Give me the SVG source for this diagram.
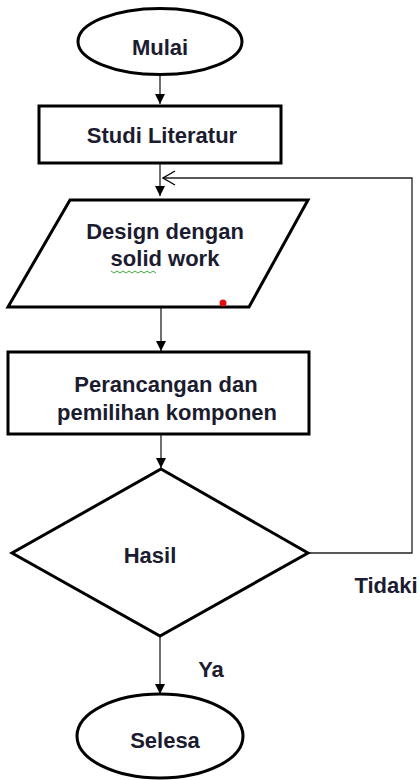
<svg xmlns="http://www.w3.org/2000/svg" width="420" height="780" viewBox="0 0 420 780">
<defs>
<marker id="ah" markerWidth="10" markerHeight="10" refX="10" refY="5" orient="auto" markerUnits="userSpaceOnUse">
<path d="M0,0 L10,5 L0,10 Z" fill="#000"/>
</marker>
<marker id="open" markerWidth="14" markerHeight="16" refX="13" refY="8" orient="auto" markerUnits="userSpaceOnUse">
<path d="M1,1 L13,8 L1,15" fill="none" stroke="#000" stroke-width="1.3"/>
</marker>
<style>
.shape{fill:#fff;stroke:#000;stroke-width:3}
.conn{fill:none;stroke:#222;stroke-width:1.3}
.t{font-family:"Liberation Sans",Arial,sans-serif;font-weight:bold;font-size:22px;fill:#1c1c30;text-anchor:middle}
</style>
</defs>
<rect width="420" height="780" fill="#fff"/>
<g id="connectors">
<line class="conn" x1="160" y1="75" x2="160" y2="104" marker-end="url(#ah)"/>
<line class="conn" x1="160" y1="163" x2="160" y2="196" marker-end="url(#ah)"/>
<line class="conn" x1="161" y1="307" x2="161" y2="351" marker-end="url(#ah)"/>
<line class="conn" x1="161" y1="434" x2="161" y2="468" marker-end="url(#ah)"/>
<line class="conn" x1="160" y1="636" x2="160" y2="694" marker-end="url(#ah)"/>
<polyline class="conn" points="308,553 412,553 412,178 163,178" marker-end="url(#open)"/>
</g>
<g id="mulai">
<ellipse class="shape" cx="160" cy="41.5" rx="82" ry="33"/>
<text class="t" x="160" y="55">Mulai</text>
</g>
<g id="studi">
<rect class="shape" x="39" y="106" width="242" height="57"/>
<text class="t" x="162" y="143">Studi Literatur</text>
</g>
<g id="design">
<polygon class="shape" points="70,200 308,200 249,307 8,307"/>
<text class="t" x="165" y="239">Design dengan</text>
<text class="t" x="165" y="266">solid work</text>
<path d="M111,271 l3,2 l3,-2 l3,2 l3,-2 l3,2 l3,-2 l3,2 l3,-2 l3,2 l3,-2 l3,2 l3,-2 l3,2 l3,-2 l3,2" fill="none" stroke="#3caa3c" stroke-width="1"/>
<circle cx="223" cy="303" r="3.5" fill="#e01010"/>
</g>
<g id="perancangan">
<rect class="shape" x="8" y="352" width="301" height="82"/>
<text class="t" x="166" y="392">Perancangan dan</text>
<text class="t" x="167" y="420">pemilihan komponen</text>
</g>
<g id="hasil">
<polygon class="shape" points="161,469 308,553 160,636 12,553"/>
<text class="t" x="150" y="563">Hasil</text>
</g>
<g id="labels">
<text class="t" x="386" y="593">Tidaki</text>
<text class="t" x="211" y="677">Ya</text>
</g>
<g id="selesa">
<ellipse class="shape" cx="160" cy="736" rx="83" ry="42"/>
<text class="t" x="165" y="748">Selesa</text>
</g>
</svg>
